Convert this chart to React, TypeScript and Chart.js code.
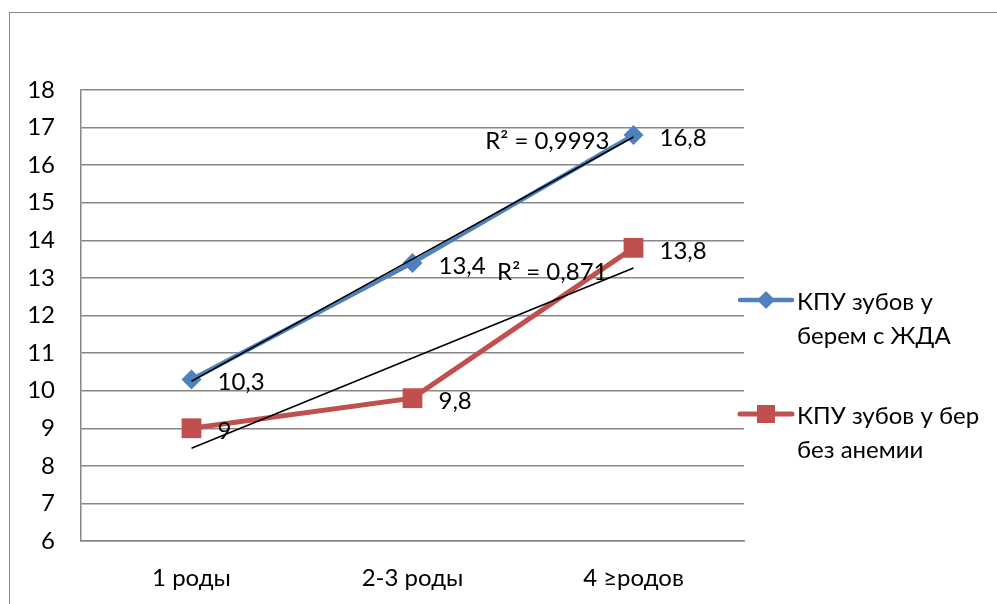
import React, { useEffect, useRef } from "react";
import { Chart, registerables } from "chart.js";

Chart.register(...registerables);

const categories = ["1 роды", "2-3 роды", "4 ≥родов"];
const seriesAnemia = [10.3, 13.4, 16.8];
const seriesNoAnemia = [9, 9.8, 13.8];
const legendAnemia = ["КПУ зубов у", "берем с ЖДА"];
const legendNoAnemia = ["КПУ зубов у бер", "без анемии"];
const r2Anemia = "R² = 0,9993";
const r2NoAnemia = "R² = 0,871";
const yMin = 6;
const yMax = 18;

const BLUE = "#4F81BD";
const RED = "#C0504D";
const GRID = "#878787";
const FONT = "Lato, 'Open Sans', sans-serif";

function linearFit(values: number[]): number[] {
  const n = values.length;
  const xs = values.map((_, i) => i + 1);
  const mx = xs.reduce((a, b) => a + b, 0) / n;
  const my = values.reduce((a, b) => a + b, 0) / n;
  let sxy = 0;
  let sxx = 0;
  for (let i = 0; i < n; i++) {
    sxy += (xs[i] - mx) * (values[i] - my);
    sxx += (xs[i] - mx) * (xs[i] - mx);
  }
  const slope = sxy / sxx;
  return xs.map((x) => my + slope * (x - mx));
}

const fmt = (v: number) => String(v).replace(".", ",");

const overlayPlugin = {
  id: "overlay",
  afterDatasetsDraw(chart: any) {
    const ctx = chart.ctx as CanvasRenderingContext2D;
    const xs = chart.scales.x;
    const ys = chart.scales.y;
    ctx.save();
    ctx.fillStyle = "#000";
    ctx.font = `24px ${FONT}`;
    ctx.textBaseline = "middle";
    ctx.textAlign = "left";
    // data labels
    [seriesAnemia, seriesNoAnemia].forEach((arr) => {
      arr.forEach((v, i) => {
        const px = xs.getPixelForValue(i);
        const py = ys.getPixelForValue(v);
        ctx.fillText(fmt(v), px + 26, py + 3);
      });
    });
    // R² labels
    const fitA = linearFit(seriesAnemia);
    const fitB = linearFit(seriesNoAnemia);
    const last = categories.length - 1;
    ctx.textAlign = "right";
    ctx.fillText(r2Anemia, xs.getPixelForValue(last) - 24, ys.getPixelForValue(fitA[last]) + 4);
    ctx.fillText(r2NoAnemia, xs.getPixelForValue(last) - 26, ys.getPixelForValue(fitB[last]) + 4);

    // legend
    const legendX = chart.chartArea.right - 4;
    const drawEntry = (color: string, lw: number, y: number, lines: string[], marker: string) => {
      ctx.strokeStyle = color;
      ctx.lineWidth = lw;
      ctx.lineCap = "round";
      ctx.beginPath();
      ctx.moveTo(legendX, y);
      ctx.lineTo(legendX + 52, y);
      ctx.stroke();
      ctx.fillStyle = color;
      const cx = legendX + 26;
      if (marker === "diamond") {
        ctx.beginPath();
        ctx.moveTo(cx, y - 9);
        ctx.lineTo(cx + 9, y);
        ctx.lineTo(cx, y + 9);
        ctx.lineTo(cx - 9, y);
        ctx.closePath();
        ctx.fill();
      } else {
        ctx.fillRect(cx - 9, y - 9, 18, 18);
      }
      ctx.fillStyle = "#000";
      ctx.textAlign = "left";
      ctx.font = `24px ${FONT}`;
      lines.forEach((t, k) => ctx.fillText(t, legendX + 57, y + 2 + k * 34));
    };
    drawEntry(BLUE, 4.5, 300, legendAnemia, "diamond");
    drawEntry(RED, 5, 414, legendNoAnemia, "square");
    ctx.restore();
  },
};

export default function App() {
  const ref = useRef<HTMLCanvasElement | null>(null);
  useEffect(() => {
    if (!ref.current) return;
    const chart = new Chart(ref.current, {
      type: "line",
      data: {
        labels: categories,
        datasets: [
          {
            label: "trendA",
            data: linearFit(seriesAnemia),
            borderColor: "#000",
            borderWidth: 1.6,
            pointRadius: 0,
            order: 0,
          },
          {
            label: "trendB",
            data: linearFit(seriesNoAnemia),
            borderColor: "#000",
            borderWidth: 1.6,
            pointRadius: 0,
            order: 0,
          },
          {
            label: legendAnemia.join(" "),
            data: seriesAnemia,
            borderColor: BLUE,
            backgroundColor: BLUE,
            borderWidth: 4.5,
            pointStyle: "rectRot",
            pointRadius: 10,
            pointBorderWidth: 0,
            order: 1,
          },
          {
            label: legendNoAnemia.join(" "),
            data: seriesNoAnemia,
            borderColor: RED,
            backgroundColor: RED,
            borderWidth: 5,
            pointStyle: "rect",
            pointRadius: 14,
            pointBorderWidth: 0,
            order: 2,
          },
        ],
      },
      options: {
        responsive: false,
        animation: false,
        layout: { padding: { top: 90, right: 253, left: 0, bottom: 0 } },
        plugins: { legend: { display: false }, tooltip: { enabled: false } },
        scales: {
          x: {
            offset: true,
            grid: { display: false },
            border: { color: GRID, width: 1.5 },
            ticks: { color: "#000", font: { family: FONT, size: 24 }, padding: 15 },
            afterFit: (s: any) => {
              s.height = 63;
            },
          },
          y: {
            min: yMin,
            max: yMax,
            grid: { color: GRID, lineWidth: 1.5, drawTicks: false },
            border: { color: GRID, width: 1.5 },
            ticks: { stepSize: 1, color: "#000", font: { family: FONT, size: 24 }, padding: 26 },
            afterFit: (s: any) => {
              s.width = 81;
            },
          },
        },
      },
      plugins: [overlayPlugin],
    });
    return () => chart.destroy();
  }, []);
  return (
    <div style={{ position: "fixed", left: 0, top: 0, width: 997, height: 604, overflow: "hidden", background: "#fff" }}>
      <div
        style={{
          position: "absolute",
          left: 9,
          top: 12,
          width: 1200,
          height: 800,
          border: "1px solid #898989",
          boxSizing: "border-box",
        }}
      />
      <canvas ref={ref} width={997} height={604} style={{ position: "absolute", left: 0, top: 0 }} />
    </div>
  );
}
